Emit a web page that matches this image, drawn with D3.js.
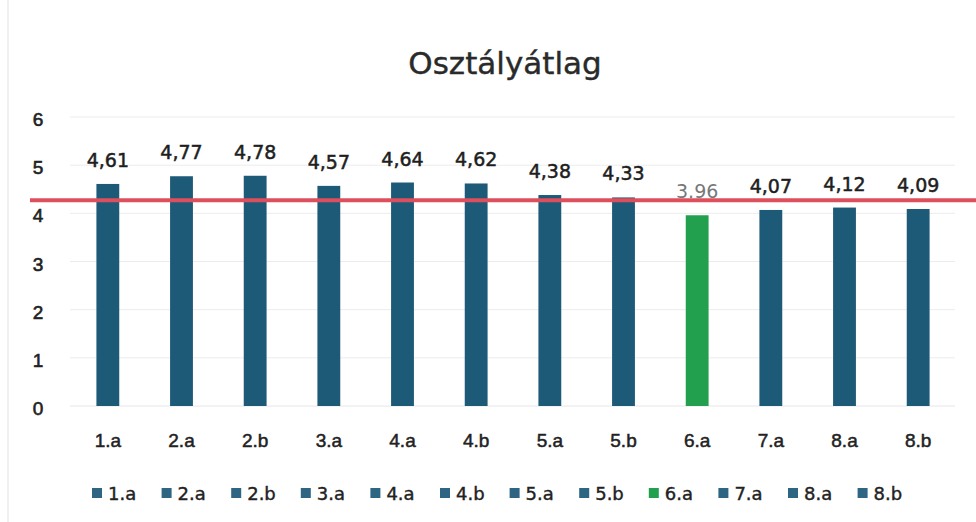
<!DOCTYPE html>
<html><head><meta charset="utf-8">
<script src="https://cdn.jsdelivr.net/npm/d3@7"></script>
<style>body{margin:0;background:#fff;} svg{display:block;font-family:"DejaVu Sans",sans-serif;}</style>
</head><body>
<script>
const categories = ["1.a","2.a","2.b","3.a","4.a","4.b","5.a","5.b","6.a","7.a","8.a","8.b"];
const values = [4.61,4.77,4.78,4.57,4.64,4.62,4.38,4.33,3.96,4.07,4.12,4.09];
const valueLabels = ["4,61","4,77","4,78","4,57","4,64","4,62","4,38","4,33","3.96","4,07","4,12","4,09"];
const highlight = ["6.a"];
const referenceLine = [4.27];
const yTicks = [0,1,2,3,4,5,6];
const title = "Osztályátlag";

const W=976,H=522;
const blue="#1d5a78", green="#23a04e";
const svg=d3.select("body").append("svg").attr("width",W).attr("height",H);
svg.append("rect").attr("width",W).attr("height",H).attr("fill","#fff");
svg.append("line").attr("x1",8).attr("x2",8).attr("y1",0).attr("y2",H).attr("stroke","#e2e2e2").attr("stroke-width",1);

const x=d3.scaleBand().domain(categories).range([71,955]).paddingInner(0.69).paddingOuter(0.345);
const y=d3.scaleLinear().domain([0,6]).range([406,117]);

svg.append("text").attr("x",505).attr("y",74).attr("text-anchor","middle").attr("font-size",31)
  .attr("fill","#2a2a2a").attr("stroke","#2a2a2a").attr("stroke-width",0.4).text(title);

// gridlines
svg.append("g").selectAll("line").data(yTicks.slice(1)).join("line")
  .attr("x1",70).attr("x2",955).attr("y1",d=>y(d)).attr("y2",d=>y(d))
  .attr("stroke","#ececec").attr("stroke-width",1);
svg.append("line").attr("x1",70).attr("x2",955).attr("y1",y(0)).attr("y2",y(0)).attr("stroke","#e6e6e6");

// y axis
const ya=svg.append("g").attr("transform","translate(44,0)").call(d3.axisLeft(y).tickValues(yTicks).tickSize(0).tickPadding(0).tickFormat(d3.format("d")));
ya.select(".domain").remove();
ya.selectAll("text").attr("font-size",19).attr("fill","#222").attr("stroke","#222").attr("stroke-width",0.6)
  .attr("text-anchor","middle").attr("dx",-6).attr("dy","0.45em");

// bars
svg.append("g").selectAll("rect").data(values).join("rect")
  .attr("x",(d,i)=>x(categories[i])).attr("width",x.bandwidth())
  .attr("y",d=>y(d)).attr("height",d=>y(0)-y(d))
  .attr("fill",(d,i)=>highlight.includes(categories[i])?green:blue);

// labels
svg.append("g").selectAll("text").data(values).join("text")
  .attr("x",(d,i)=>x(categories[i])+x.bandwidth()/2).attr("y",d=>y(d)-17)
  .attr("text-anchor","middle").attr("font-size",19)
  .attr("fill",(d,i)=>highlight.includes(categories[i])?"#777":"#1e1e1e")
  .attr("stroke",(d,i)=>highlight.includes(categories[i])?"none":"#1e1e1e").attr("stroke-width",0.5)
  .text((d,i)=>valueLabels[i]);

// x axis
const xa=svg.append("g").attr("transform","translate(0,447)").call(d3.axisBottom(x).tickSize(0).tickPadding(0));
xa.select(".domain").remove();
xa.selectAll("text").attr("font-size",19).attr("fill","#222").attr("stroke","#222").attr("stroke-width",0.5).attr("dy",0);

// reference line
svg.append("g").selectAll("line").data(referenceLine).join("line")
  .attr("x1",30).attr("x2",W).attr("y1",d=>y(d)).attr("y2",d=>y(d))
  .attr("stroke","#dd4f5c").attr("stroke-width",4);

// legend
const lg=svg.append("g").attr("transform","translate(0,500)");
const item=lg.selectAll("g").data(categories).join("g")
  .attr("transform",(c,i)=>`translate(${92+i*69.6},0)`);
item.append("rect").attr("x",0).attr("y",-12).attr("width",10).attr("height",10).attr("fill",c=>highlight.includes(c)?green:"#2d6583");
item.append("text").attr("x",16).attr("y",0).attr("font-size",18).attr("fill","#222").attr("stroke","#222").attr("stroke-width",0.4).text(c=>c);
</script>
</body></html>
